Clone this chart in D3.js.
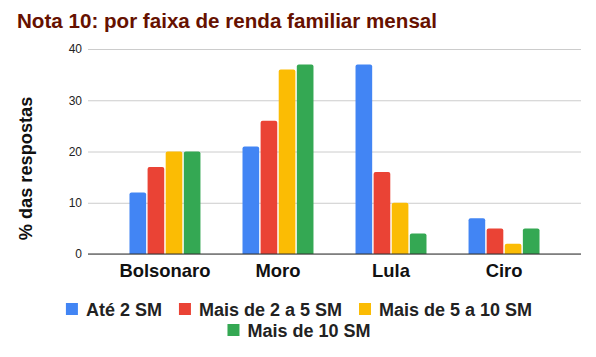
<!DOCTYPE html>
<html><head><meta charset="utf-8">
<script src="https://cdn.jsdelivr.net/npm/d3@7"></script>
<style>body{margin:0;background:#fff}svg{display:block;font-family:"Liberation Sans",Arial,sans-serif}</style>
</head><body><svg id="c" width="596" height="357"></svg>
<script>
const categories = ["Bolsonaro", "Moro", "Lula", "Ciro"];
const seriesNames = ["Até 2 SM", "Mais de 2 a 5 SM", "Mais de 5 a 10 SM", "Mais de 10 SM"];
const ate2 = [12, 21, 37, 7];
const de2a5 = [17, 26, 16, 5];
const de5a10 = [20, 36, 10, 2];
const mais10 = [20, 37, 4, 5];
const yTicks = [0, 10, 20, 30, 40];
const colors = ["#4285F4", "#EA4335", "#FBBC04", "#34A853"];
const series = [ate2, de2a5, de5a10, mais10];

const svg = d3.select("#c");
const L = 88, R = 581, T = 49, B = 254;
const x0 = d3.scaleBand().domain(categories).range([L, R]).paddingInner(0.372).paddingOuter(0.367);
const x1 = d3.scaleBand().domain(d3.range(4)).range([0, x0.bandwidth()]).paddingInner(0.08);
const y = d3.scaleLinear().domain([0, 40]).range([B, T]);

svg.append("text").attr("x", 17).attr("y", 28).attr("fill", "#661100")
  .attr("font-size", 20.6).attr("font-weight", "bold").text("Nota 10: por faixa de renda familiar mensal");

const ya = svg.append("g").attr("transform", `translate(${L},0)`)
  .call(d3.axisLeft(y).tickValues(yTicks).tickSize(-(R - L)).tickPadding(6));
ya.select(".domain").remove();
ya.selectAll(".tick line").attr("stroke", "#cccccc");
ya.selectAll(".tick text").attr("font-size", 12).attr("fill", "#222").attr("font-family", "Liberation Sans, Arial, sans-serif");

svg.append("text").attr("transform", `translate(32,${(T + B) / 2 + 17}) rotate(-90)`)
  .attr("text-anchor", "middle").attr("font-size", 18.2).attr("font-weight", "bold").attr("fill", "#111")
  .text("% das respostas");

const g = svg.append("g");
categories.forEach((c, i) => {
  series.forEach((s, j) => {
    const xx = x0(c) + x1(j), w = x1.bandwidth(), yy = y(s[i]), h = B - yy, r = Math.min(2, h);
    g.append("path").attr("fill", colors[j])
      .attr("d", `M${xx},${B}V${yy + r}Q${xx},${yy} ${xx + r},${yy}H${xx + w - r}Q${xx + w},${yy} ${xx + w},${yy + r}V${B}Z`);
  });
});

svg.append("line").attr("x1", L).attr("x2", R).attr("y1", B).attr("y2", B).attr("stroke", "#333").attr("stroke-width", 1);

const xa = svg.append("g").attr("transform", `translate(0,${B})`).call(d3.axisBottom(x0).tickSize(0).tickPadding(10));
xa.select(".domain").remove();
xa.selectAll(".tick text").attr("font-size", 18.4).attr("font-weight", "bold").attr("fill", "#111")
  .attr("font-family", "Liberation Sans, Arial, sans-serif");

// legend
const rows = [[0, 1, 2], [3]];
const rowY = [316, 337];
const sq = 12, gapT = 8, gapI = 17;
rows.forEach((row, ri) => {
  const lg = svg.append("g");
  let cx = 0;
  row.forEach(k => {
    lg.append("rect").attr("x", cx).attr("y", rowY[ri] - 13).attr("width", sq).attr("height", sq).attr("fill", colors[k]);
    const t = lg.append("text").attr("x", cx + sq + gapT).attr("y", rowY[ri]).attr("font-size", 18)
      .attr("font-weight", "bold").attr("fill", "#222").text(seriesNames[k]);
    cx += sq + gapT + t.node().getComputedTextLength() + gapI;
  });
  const wTot = cx - gapI;
  lg.attr("transform", `translate(${(596 - wTot) / 2 + 1},0)`);
});
</script></body></html>
